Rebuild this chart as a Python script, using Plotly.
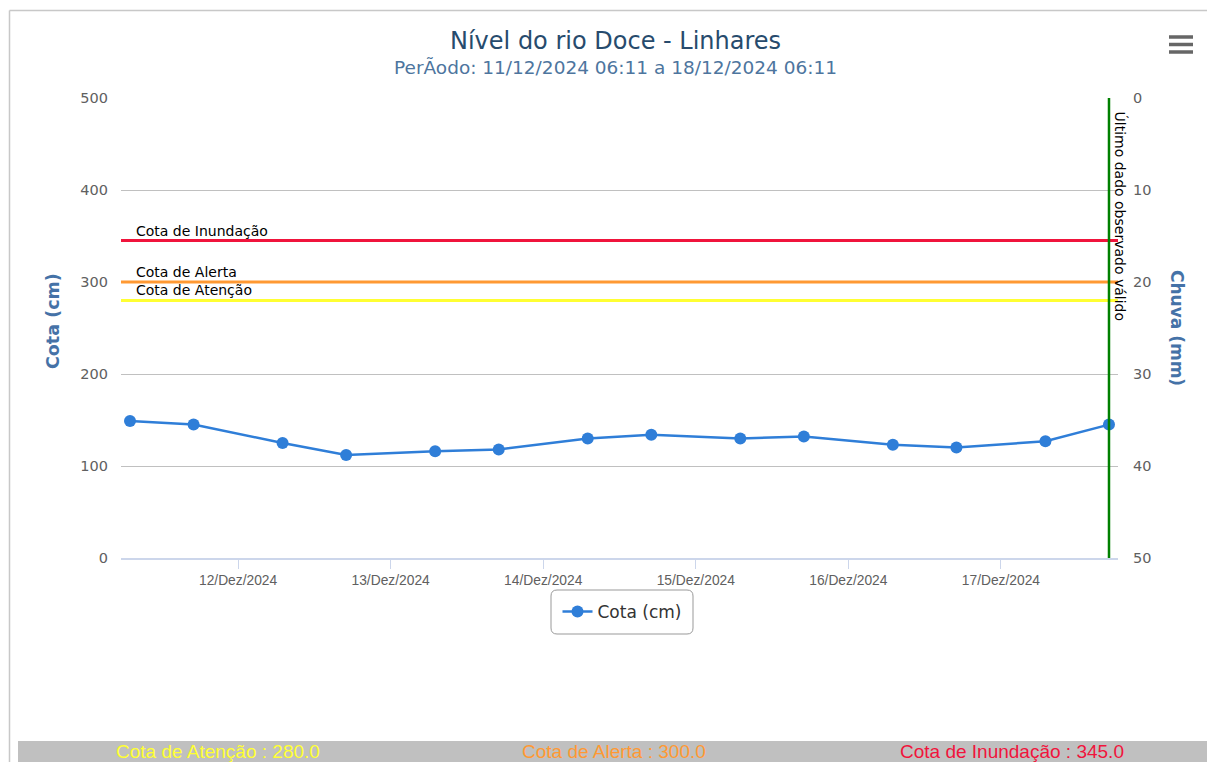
import plotly.graph_objects as go

# ---- data ----
times = [
    "2024-12-11 07:00", "2024-12-11 17:00",
    "2024-12-12 07:00", "2024-12-12 17:00",
    "2024-12-13 07:00", "2024-12-13 17:00",
    "2024-12-14 07:00", "2024-12-14 17:00",
    "2024-12-15 07:00", "2024-12-15 17:00",
    "2024-12-16 07:00", "2024-12-16 17:00",
    "2024-12-17 07:00", "2024-12-17 17:00",
]
cota = [149, 145, 125, 112, 116, 118, 130, 134, 130, 132, 123, 120, 127, 145]

tick_vals = ["2024-12-12", "2024-12-13", "2024-12-14", "2024-12-15", "2024-12-16", "2024-12-17"]
tick_text = ["12/Dez/2024", "13/Dez/2024", "14/Dez/2024", "15/Dez/2024", "16/Dez/2024", "17/Dez/2024"]

thresh_names = ["Cota de Inundação", "Cota de Alerta", "Cota de Atenção"]
thresh_values = [345, 300, 280]
thresh_colors = ["#f0143c", "#ff9933", "#ffff33"]
last_valid = "2024-12-17 17:00"
x_range = ["2024-12-11 05:35", "2024-12-17 18:25"]

W, H = 1207, 762
L, R, T, B = 121, 1118, 98, 558
FONT = "DejaVu Sans, Verdana, sans-serif"


def px(x):
    return (x - L) / (R - L)


def py(y):
    return (B - y) / (B - T)


fig = go.Figure()
fig.add_trace(go.Scatter(
    x=times, y=cota, mode="lines+markers", name="Cota (cm)",
    line=dict(color="#2f7ed8", width=2.5),
    marker=dict(color="#2f7ed8", size=12),
))
# empty rain axis trace
fig.add_trace(go.Scatter(x=[], y=[], yaxis="y2", showlegend=False, hoverinfo="skip"))

shapes = []
annotations = []
for name, v, c in zip(thresh_names, thresh_values, thresh_colors):
    shapes.append(dict(type="line", xref="paper", yref="y", x0=0, x1=1, y0=v, y1=v,
                       line=dict(color=c, width=3)))
    annotations.append(dict(xref="paper", yref="y", x=px(134), y=v, text=name,
                            showarrow=False, xanchor="left", yanchor="bottom", yshift=0,
                            font=dict(family=FONT, size=14, color="#000000")))

# last valid data line
shapes.append(dict(type="line", xref="x", yref="paper", x0=last_valid, x1=last_valid, y0=0, y1=1,
                   line=dict(color="#008000", width=2.5)))
annotations.append(dict(xref="x", yref="paper", x=last_valid, y=py(110), text="Último dado observado válido",
                        textangle=90, showarrow=False, xanchor="left", yanchor="top", xshift=2,
                        font=dict(family=FONT, size=14, color="#000000")))

# frame
shapes.append(dict(type="line", xref="paper", yref="paper", x0=px(9.5), x1=px(9.5), y0=py(762), y1=py(10.5),
                   line=dict(color="#c8c8c8", width=1.5)))
shapes.append(dict(type="line", xref="paper", yref="paper", x0=px(9.5), x1=px(1207), y0=py(10.5), y1=py(10.5),
                   line=dict(color="#c8c8c8", width=1.5)))
# bottom bar
shapes.append(dict(type="rect", xref="paper", yref="paper", x0=px(18), x1=px(1210), y0=py(765), y1=py(741),
                   fillcolor="#c0c0c0", line=dict(width=0), layer="below"))
# hamburger icon
for yy in [37, 44.5, 52]:
    shapes.append(dict(type="line", xref="paper", yref="paper", x0=px(1169), x1=px(1193), y0=py(yy), y1=py(yy),
                       line=dict(color="#666666", width=3.5)))


# legend rounded box
def rpath(x0p, y0p, x1p, y1p, r):
    return (f"M {px(x0p + r)},{py(y0p)} L {px(x1p - r)},{py(y0p)} "
            f"Q {px(x1p)},{py(y0p)} {px(x1p)},{py(y0p + r)} L {px(x1p)},{py(y1p - r)} "
            f"Q {px(x1p)},{py(y1p)} {px(x1p - r)},{py(y1p)} L {px(x0p + r)},{py(y1p)} "
            f"Q {px(x0p)},{py(y1p)} {px(x0p)},{py(y1p - r)} L {px(x0p)},{py(y0p + r)} "
            f"Q {px(x0p)},{py(y0p)} {px(x0p + r)},{py(y0p)} Z")


shapes.append(dict(type="path", xref="paper", yref="paper", path=rpath(551, 590, 693, 634, 6),
                   line=dict(color="#999999", width=1)))

# titles
annotations.append(dict(xref="paper", yref="paper", x=px(615), y=py(41), text="Nível do rio Doce - Linhares",
                        showarrow=False, xanchor="center", yanchor="middle",
                        font=dict(family=FONT, size=24, color="#274b6d")))
annotations.append(dict(xref="paper", yref="paper", x=px(615), y=py(67),
                        text="PerÃodo: 11/12/2024 06:11 a 18/12/2024 06:11",
                        showarrow=False, xanchor="center", yanchor="middle",
                        font=dict(family=FONT, size=18.5, color="#4d759e")))
annotations.append(dict(xref="paper", yref="paper", x=px(53), y=py(321), text="<b>Cota (cm)</b>",
                        textangle=-90, showarrow=False, xanchor="center", yanchor="middle",
                        font=dict(family=FONT, size=17.5, color="#4572a7")))
annotations.append(dict(xref="paper", yref="paper", x=px(1177), y=py(328), text="<b>Chuva (mm)</b>",
                        textangle=90, showarrow=False, xanchor="center", yanchor="middle",
                        font=dict(family=FONT, size=17, color="#4572a7")))

# bottom bar texts
bar_texts = ["Cota de Atenção : 280.0", "Cota de Alerta : 300.0", "Cota de Inundação : 345.0"]
bar_x = [218, 614, 1012]
for t, xx, c in zip(bar_texts, bar_x, thresh_colors[::-1]):
    annotations.append(dict(xref="paper", yref="paper", x=px(xx), y=py(751), text=t,
                            showarrow=False, xanchor="center", yanchor="middle",
                            font=dict(family="Liberation Sans Narrow, Liberation Sans", size=19, color=c)))

fig.update_layout(
    width=W, height=H,
    margin=dict(l=L, r=W - R, t=T, b=H - B, autoexpand=False),
    paper_bgcolor="white", plot_bgcolor="white",
    showlegend=True,
    legend=dict(x=px(622), y=py(612), xanchor="center", yanchor="middle", orientation="h",
                borderwidth=0, bgcolor="rgba(0,0,0,0)",
                font=dict(family=FONT, size=17, color="#333333")),
    xaxis=dict(type="date", range=x_range, tickvals=tick_vals, ticktext=tick_text,
               showgrid=False, showline=True, linecolor="#ccd6eb", linewidth=1.5,
               ticks="outside", ticklen=9, tickcolor="#ccd6eb",
               tickfont=dict(family="Liberation Sans, Arial", size=13.8, color="#606060"), zeroline=False),
    yaxis=dict(range=[0, 500], tickvals=[0, 100, 200, 300, 400, 500], showgrid=True, gridcolor="#c0c0c0",
               gridwidth=1, zeroline=False, showline=False, ticks="", ticklabelstandoff=12,
               tickfont=dict(family=FONT, size=14.5, color="#606060")),
    yaxis2=dict(range=[50, 0], overlaying="y", side="right", tickvals=[0, 10, 20, 30, 40, 50],
                showgrid=False, zeroline=False, showline=False, ticks="", ticklabelstandoff=14,
                tickfont=dict(family=FONT, size=14.5, color="#606060")),
    shapes=shapes, annotations=annotations,
)

fig.write_html("out.html", config={"displayModeBar": False},
               post_script="document.body.style.margin='0';document.body.style.overflow='hidden';")
